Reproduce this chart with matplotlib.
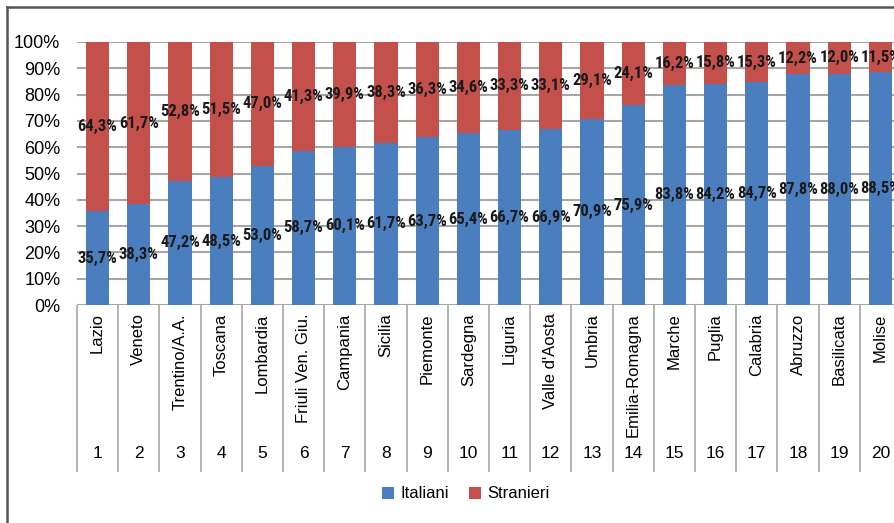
import matplotlib
matplotlib.use("Agg")
import matplotlib.pyplot as plt
from matplotlib.lines import Line2D
import numpy as np

regioni = ["Lazio", "Veneto", "Trentino/A.A.", "Toscana", "Lombardia",
           "Friuli Ven. Giu.", "Campania", "Sicilia", "Piemonte", "Sardegna",
           "Liguria", "Valle d'Aosta", "Umbria", "Emilia-Romagna", "Marche",
           "Puglia", "Calabria", "Abruzzo", "Basilicata", "Molise"]
italiani = [35.7, 38.3, 47.2, 48.5, 53.0, 58.7, 60.1, 61.7, 63.7, 65.4,
            66.7, 66.9, 70.9, 75.9, 83.8, 84.2, 84.7, 87.8, 88.0, 88.5]
stranieri = [64.3, 61.7, 52.8, 51.5, 47.0, 41.3, 39.9, 38.3, 36.3, 34.6,
             33.3, 33.1, 29.1, 24.1, 16.2, 15.8, 15.3, 12.2, 12.0, 11.5]

blu = "#4a7ebf"
rosso = "#c4504c"
grigio = "#a6a6a6"

plt.rcParams["font.family"] = ["Liberation Sans", "DejaVu Sans"]

fig = plt.figure(figsize=(8.94, 5.23), dpi=100)
W, H = 894, 523
ax = fig.add_axes([77 / W, 1 - 305 / H, (901 - 77) / W, (305 - 42) / H])

x = np.arange(len(regioni))
b1 = ax.bar(x, italiani, width=0.56, color=blu, label="Italiani", zorder=3)
b2 = ax.bar(x, stranieri, width=0.56, bottom=italiani, color=rosso,
            label="Stranieri", zorder=3)

# etichette al centro di ogni segmento
lab_font = dict(family=["Roboto Condensed", "Archivo Narrow", "PT Sans Narrow",
                        "DejaVu Sans"],
                fontweight="bold", fontsize=12, color="#1a1a1a")
for i in range(len(regioni)):
    ax.text(x[i], italiani[i] / 2, f"{italiani[i]:.1f}%".replace(".", ","),
            ha="center", va="center", zorder=4, **lab_font)
    ax.text(x[i], italiani[i] + stranieri[i] / 2,
            f"{stranieri[i]:.1f}%".replace(".", ","),
            ha="center", va="center", zorder=4, **lab_font)

ax.set_xlim(-0.5, len(regioni) - 0.5)
ax.set_ylim(0, 100)
ax.set_yticks(np.arange(0, 101, 10))
ax.set_yticklabels([f"{v}%" for v in range(0, 101, 10)], fontsize=13)
ax.tick_params(axis="y", length=0, pad=12)
ax.grid(axis="y", color=grigio, linewidth=1.5, zorder=0)
for s in ax.spines.values():
    s.set_visible(False)

# nomi delle regioni e linee di separazione
ax.set_xticks(x)
ax.set_xticklabels(regioni, rotation=90, fontsize=12)
ax.tick_params(axis="x", which="major", length=0, pad=6)
ax.set_xticks(np.arange(-0.5, len(regioni)), minor=True)
ax.tick_params(axis="x", which="minor", length=120, width=1.2,
               color=grigio, direction="out")
for i in range(len(regioni)):
    ax.text(x[i], -0.563, str(i + 1), transform=ax.get_xaxis_transform(),
            ha="center", va="center", fontsize=12.5)

fig.legend(handles=[b1, b2], labels=["Italiani", "Stranieri"],
           loc="center", bbox_to_anchor=(466 / W, 1 - 494 / H), ncol=2,
           frameon=False, fontsize=12, handlelength=0.7, handleheight=0.7,
           handletextpad=0.4, columnspacing=1.2)

# cornice
fx = 7 / W
fy = 1 - 7 / H
fig.add_artist(Line2D([fx, fx], [0, fy], color="#555555", linewidth=1.8))
fig.add_artist(Line2D([fx, 1], [fy, fy], color="#555555", linewidth=1.8))

fig.savefig("out.png", dpi=100)
